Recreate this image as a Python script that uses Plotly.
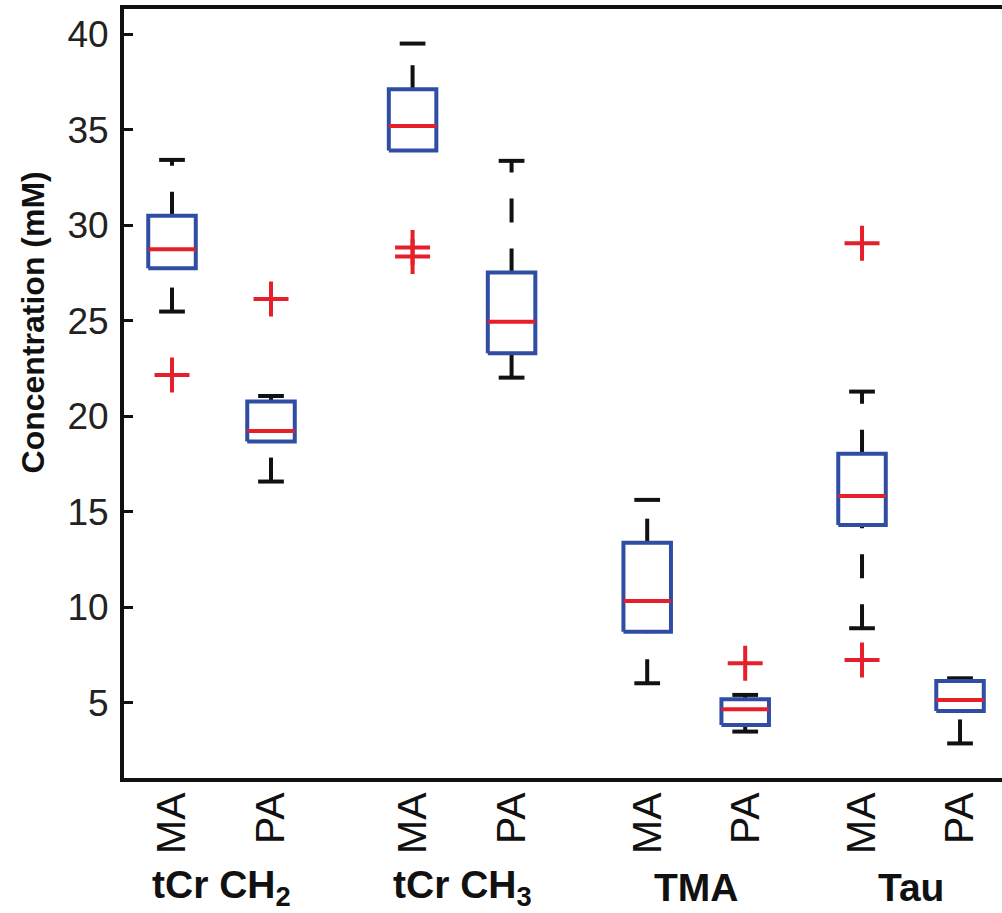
import plotly.graph_objects as go

# ---------------- data ----------------
groups = ["tCr CH<sub>2</sub>", "tCr CH<sub>3</sub>", "TMA", "Tau"]
conditions = ["MA", "PA", "MA", "PA", "MA", "PA", "MA", "PA"]
positions = [1.0, 2.0, 3.43, 4.43, 5.80, 6.79, 7.97, 8.96]

q1 = [27.75, 18.68, 33.91, 23.30, 8.72, 3.84, 14.31, 4.57]
median = [28.74, 19.23, 35.20, 24.94, 10.33, 4.66, 15.83, 5.15]
q3 = [30.49, 20.77, 37.12, 27.52, 13.38, 5.18, 18.03, 6.14]
lower_adj = [25.48, 16.58, 33.91, 22.02, 6.02, 3.49, 8.90, 2.87]
upper_adj = [33.42, 21.06, 39.51, 33.37, 15.62, 5.41, 21.29, 6.28]
outliers = [[22.16], [26.14], [28.83, 28.36], [], [], [7.07], [29.06, 7.24], []]

yticks = [5, 10, 15, 20, 25, 30, 35, 40]

# ---------------- styles ----------------
BLUE = "#2f4ea3"
RED = "#e5202a"
BLACK = "#111111"
FONT = "Liberation Sans, Arial, sans-serif"
BOX_HALF = 0.24
CAP_HALF = 0.13
LW = 4

fig = go.Figure()

for i, p in enumerate(positions):
    # whiskers (drawn from low value to high value, dashed)
    if lower_adj[i] < q1[i]:
        fig.add_trace(go.Scatter(x=[p, p], y=[lower_adj[i], q1[i]], mode="lines",
                                 line=dict(color=BLACK, width=LW, dash="24px,26px"),
                                 hoverinfo="skip", showlegend=False))
        fig.add_trace(go.Scatter(x=[p - CAP_HALF, p + CAP_HALF], y=[lower_adj[i]] * 2, mode="lines",
                                 line=dict(color=BLACK, width=LW), hoverinfo="skip", showlegend=False))
    if upper_adj[i] > q3[i]:
        fig.add_trace(go.Scatter(x=[p, p], y=[q3[i], upper_adj[i]], mode="lines",
                                 line=dict(color=BLACK, width=LW, dash="24px,26px"),
                                 hoverinfo="skip", showlegend=False))
        fig.add_trace(go.Scatter(x=[p - CAP_HALF, p + CAP_HALF], y=[upper_adj[i]] * 2, mode="lines",
                                 line=dict(color=BLACK, width=LW), hoverinfo="skip", showlegend=False))
    # box
    fig.add_trace(go.Scatter(
        x=[p - BOX_HALF, p + BOX_HALF, p + BOX_HALF, p - BOX_HALF, p - BOX_HALF],
        y=[q1[i], q1[i], q3[i], q3[i], q1[i]], mode="lines",
        line=dict(color=BLUE, width=LW), hoverinfo="skip", showlegend=False))
    # median
    fig.add_trace(go.Scatter(x=[p - BOX_HALF, p + BOX_HALF], y=[median[i]] * 2, mode="lines",
                             line=dict(color=RED, width=LW), hoverinfo="skip", showlegend=False))
    # outliers
    if outliers[i]:
        fig.add_trace(go.Scatter(x=[p] * len(outliers[i]), y=outliers[i], mode="markers",
                                 marker=dict(symbol="cross-thin", size=25,
                                             line=dict(color=RED, width=LW)),
                                 hoverinfo="skip", showlegend=False))

# group labels
for g in range(len(groups)):
    xm = (positions[2 * g] + positions[2 * g + 1]) / 2
    fig.add_annotation(x=xm, xref="x", y=-0.143, yref="paper", yanchor="middle",
                       text="<b>" + groups[g] + "</b>", showarrow=False,
                       font=dict(family=FONT, size=39, color=BLACK))

# y-axis title
fig.add_annotation(x=-0.104, xref="paper", y=0.592, yref="paper", textangle=-90,
                   text="<b>Concentration (mM)</b>", showarrow=False,
                   xanchor="center", yanchor="middle",
                   font=dict(family=FONT, size=32, color=BLACK))

fig.update_layout(
    width=1002, height=913,
    margin=dict(l=124, r=0, t=9, b=135, autoexpand=False),
    paper_bgcolor="white", plot_bgcolor="white",
    showlegend=False,
    font=dict(family=FONT, color=BLACK),
    xaxis=dict(range=[0.515, 9.384], tickvals=positions, ticktext=conditions,
               tickangle=-90, ticks="", showgrid=False, zeroline=False,
               showline=True, linecolor=BLACK, linewidth=LW, mirror=True,
               tickfont=dict(family=FONT, size=41, color=BLACK),
               ticklabelstandoff=-6),
    yaxis=dict(range=[1.06, 41.32], tickvals=yticks, ticks="inside", ticklen=9,
               tickwidth=3, tickcolor=BLACK, showgrid=False, zeroline=False,
               showline=True, linecolor=BLACK, linewidth=LW, mirror=False,
               tickfont=dict(family=FONT, size=37, color="#222222"),
               ticklabelstandoff=4),
)

fig.write_html("out.html", config={"displayModeBar": False},
               post_script="document.body.style.margin='0';document.body.style.overflow='hidden';")
